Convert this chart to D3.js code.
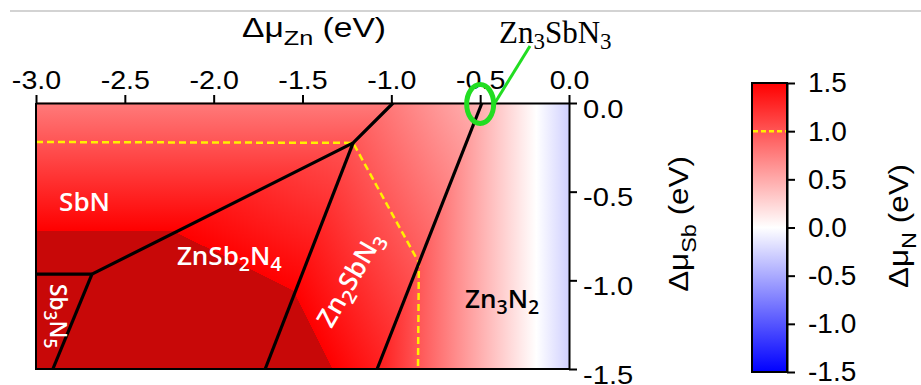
<!DOCTYPE html>
<html>
<head>
<meta charset="utf-8">
<script src="https://cdn.jsdelivr.net/npm/d3@7"></script>
<style>
    body { margin: 0; background: #fff; }
    svg { display: block; }
</style>
</head>
<body>
<svg id="chart" width="921" height="385" font-family="Liberation Sans, Arial, sans-serif"></svg>
<script>
// phases: Zn_a Sb_b N_c, ΔH (eV) -> Δμ_N = (ΔH - a Δμ_Zn - b Δμ_Sb) / c
const phases = ["SbN", "Sb3N5", "ZnSb2N4", "Zn2SbN3", "Zn3N2"];
const nZn = [0, 0, 1, 2, 3];
const nSb = [1, 3, 2, 1, 0];
const nN = [1, 5, 4, 3, 2];
const dH = [0.78, 5.83, 2.33, 0.34, -0.55];

// corners of the stability regions (Δμ_Zn, Δμ_Sb)
const pts = {
    A: [-3, 0], B: [-0.99, 0], K1: [-1.215, -0.225], K2: [-2.685, -0.965], L: [-3, -0.965],
    C: [-3, -1.5], D: [-2.905, -1.5], E: [-1.71, -1.5], T: [-0.49, 0], F: [-1.08, -1.5],
    G: [0, 0], H: [0, -1.5]
};
const regions = [
    ["A", "B", "K1", "K2", "L"],
    ["L", "K2", "D", "C"],
    ["K2", "K1", "E", "D"],
    ["B", "T", "F", "E", "K1"],
    ["T", "G", "H", "F"]
];
const borders = [["B", "K1", "K2"], ["L", "K2"], ["K2", "D"], ["K1", "E"], ["T", "F"]];
// Δμ_N = 1.0 line (yellow dashes)
const contour = [[-3, -0.22], [-1.215, -0.225], [-0.845, -0.9], [-0.85, -1.5]];

const xTicks = [-3, -2.5, -2, -1.5, -1, -0.5, 0];
const yTicks = [0, -0.5, -1, -1.5];
const cTicks = [1.5, 1, 0.5, 0, -0.5, -1, -1.5];

const svg = d3.select("#chart");
const x = d3.scaleLinear().domain([-3, 0]).range([36, 569]);
const y = d3.scaleLinear().domain([0, -1.5]).range([103, 369]);
const c = d3.scaleLinear().domain([-1.5, 1.5]).range([372, 83]);
const color = d3.scaleLinear().domain([-1.5, 0, 1.5]).range(["#0000ff", "#ffffff", "#ff0000"]);
const dark = "#c80808";
const yellow = "#fff000";
const fmt = d => d.toFixed(1);

// widen a text element (the figure's type is a bit stretched)
function stretch(sel, k) {
    sel.each(function () {
        const w = this.getComputedTextLength();
        d3.select(this).attr("textLength", w * k).attr("lengthAdjust", "spacingAndGlyphs");
    });
}

const defs = svg.append("defs");

// grey rule at the top
svg.append("line").attr("x1", 10).attr("x2", 921).attr("y1", 11).attr("y2", 11)
    .attr("stroke", "#c4c4c4").attr("stroke-width", 1.5);

// one linear gradient per phase (Δμ_N is a plane in each region)
const kx = (x(0) - x(-3)) / 3, ky = (y(-1.5) - y(0)) / 1.5;
const vLo = -1.5, vHi = 2.0;
phases.forEach((p, i) => {
    const gx = -nZn[i] / nN[i] / kx, gy = nSb[i] / (nN[i] * ky);
    const g2 = gx * gx + gy * gy;
    const px0 = x(-1.5), py0 = y(-0.75);
    const m0 = (dH[i] - nZn[i] * -1.5 - nSb[i] * -0.75) / nN[i];
    const at = v => [px0 + (v - m0) * gx / g2, py0 + (v - m0) * gy / g2];
    const [x1, y1] = at(vLo), [x2, y2] = at(vHi);
    const grad = defs.append("linearGradient").attr("id", "g" + i)
        .attr("gradientUnits", "userSpaceOnUse")
        .attr("x1", x1).attr("y1", y1).attr("x2", x2).attr("y2", y2);
    const off = v => (v - vLo) / (vHi - vLo);
    [[-1.5, color(-1.5)], [0, color(0)], [1.5, color(1.5)], [1.5, dark], [vHi, dark]].forEach(s => {
        grad.append("stop").attr("offset", off(s[0])).attr("stop-color", s[1]);
    });
});

const line = d3.line().x(d => x(d[0])).y(d => y(d[1]));

// regions
svg.append("g").selectAll("path").data(regions).join("path")
    .attr("d", d => line(d.map(k => pts[k])) + "Z")
    .attr("fill", (d, i) => `url(#g${i})`)
    .attr("stroke", (d, i) => `url(#g${i})`).attr("stroke-width", 0.6);

// yellow Δμ_N = 1 line
svg.append("path").attr("d", line(contour)).attr("fill", "none")
    .attr("stroke", yellow).attr("stroke-width", 2.5).attr("stroke-dasharray", "7,4");

// phase borders
svg.append("g").selectAll("path").data(borders).join("path")
    .attr("d", d => line(d.map(k => pts[k]))).attr("fill", "none")
    .attr("stroke", "#000").attr("stroke-width", 3.2).attr("stroke-linejoin", "round");

// frame: left and bottom
svg.append("path").attr("d", `M${x(-3)},${y(0)}V${y(-1.5)}H${x(0)}`)
    .attr("fill", "none").attr("stroke", "#000").attr("stroke-width", 2);

// top axis
const minorX = d3.range(-3, 0.01, 0.25);
const gTop = svg.append("g").attr("transform", `translate(0,${y(0)})`);
gTop.call(d3.axisTop(x).tickValues(minorX).tickSize(4).tickSizeOuter(0).tickFormat(""));
gTop.call(d3.axisTop(x).tickValues(xTicks).tickSize(8).tickSizeOuter(0).tickPadding(6).tickFormat(fmt));

// right axis
const minorY = d3.range(0, -1.51, -0.25);
const gRight = svg.append("g").attr("transform", `translate(${x(0)},0)`);
gRight.call(d3.axisRight(y).tickValues(minorY).tickSize(4).tickSizeOuter(0).tickFormat(""));
gRight.call(d3.axisRight(y).tickValues(yTicks).tickSize(8).tickSizeOuter(0).tickPadding(6).tickFormat(fmt));

// colour bar
const cg = defs.append("linearGradient").attr("id", "cbar").attr("x1", 0).attr("y1", 1).attr("x2", 0).attr("y2", 0);
[[-1.5, 0], [0, 0.5], [1.5, 1]].forEach(s => cg.append("stop").attr("offset", s[1]).attr("stop-color", color(s[0])));
svg.append("rect").attr("x", 752).attr("y", c(1.5)).attr("width", 35).attr("height", c(-1.5) - c(1.5))
    .attr("fill", "url(#cbar)").attr("stroke", "#000").attr("stroke-width", 2);
svg.append("line").attr("x1", 753).attr("x2", 786).attr("y1", c(1)).attr("y2", c(1))
    .attr("stroke", yellow).attr("stroke-width", 2.5).attr("stroke-dasharray", "5,3");
const gBar = svg.append("g").attr("transform", "translate(787,0)");
gBar.call(d3.axisRight(c).tickValues(d3.range(-1.5, 1.51, 0.25)).tickSize(5).tickSizeOuter(0).tickFormat(""));
gBar.call(d3.axisRight(c).tickValues(cTicks).tickSize(8).tickSizeOuter(0).tickPadding(13).tickFormat(fmt));

svg.selectAll(".domain").attr("stroke-width", 2);
svg.selectAll(".tick line").attr("stroke-width", 2);
svg.selectAll(".tick text").attr("font-family", null);
gTop.selectAll("text").attr("font-size", 26).call(stretch, 1.1);
gRight.selectAll("text").attr("font-size", 26).attr("dy", "0.55em").call(stretch, 1.12);
gBar.selectAll("text").attr("font-size", 28);

// text with subscripts
function rich(g, parts, size, sub, shift) {
    const t = g.append("text").attr("font-size", size);
    let down = false;
    parts.forEach(([s, isSub]) => {
        const dy = isSub === down ? 0 : (isSub ? shift : -shift);
        t.append("tspan").attr("dy", dy).attr("font-size", isSub ? sub : size).text(s);
        down = isSub;
    });
    return t;
}

rich(svg.append("g").attr("transform", "translate(242,37)"),
    [["Δμ", false], ["Zn", true], [" (eV)", false]], 28, 21, 8).call(stretch, 1.2);
rich(svg.append("g").attr("transform", "translate(688,224) rotate(-90)"),
    [["Δμ", false], ["Sb", true], [" (eV)", false]], 28, 21, 8).attr("text-anchor", "middle").call(stretch, 1.12);
rich(svg.append("g").attr("transform", "translate(908,226) rotate(-90)"),
    [["Δμ", false], ["N", true], [" (eV)", false]], 28, 21, 8).attr("text-anchor", "middle").call(stretch, 1.12);

// phase labels
const lab = svg.append("g").attr("font-family", "Open Sans").attr("font-weight", 600);
const pl = (tr, parts, size, fill) => rich(lab.append("g").attr("transform", tr), parts, size, size * 0.75, size * 0.24)
    .attr("fill", fill || "#fff");
pl(`translate(${x(-2.87)},${y(-0.61)})`, [["SbN", false]], 26);
pl(`translate(${x(-2.207)},${y(-0.914)})`, [["ZnSb", false], ["2", true], ["N", false], ["4", true]], 26);
pl(`translate(50,316) rotate(90)`, [["Sb", false], ["3", true], ["N", false], ["5", true]], 23).attr("text-anchor", "middle");
pl(`translate(${x(-1.19)},${y(-1.02)}) rotate(-60)`, [["Zn", false], ["2", true], ["SbN", false], ["3", true]], 26).attr("text-anchor", "middle");
pl(`translate(${x(-0.585)},${y(-1.156)})`, [["Zn", false], ["3", true], ["N", false], ["2", true]], 26, "#000");

// Zn3SbN3 callout
svg.append("line").attr("x1", 530).attr("y1", 46).attr("x2", 493).attr("y2", 106)
    .attr("stroke", "#22dd22").attr("stroke-width", 3);
svg.append("ellipse").attr("cx", x(-0.5)).attr("cy", 104).attr("rx", 13.5).attr("ry", 19.5)
    .attr("fill", "none").attr("stroke", "#22dd22").attr("stroke-width", 5);
rich(svg.append("g").attr("transform", "translate(499,43)"),
    [["Zn", false], ["3", true], ["SbN", false], ["3", true]], 31, 23, 6)
    .attr("font-family", "Liberation Serif");
</script>
</body>
</html>
